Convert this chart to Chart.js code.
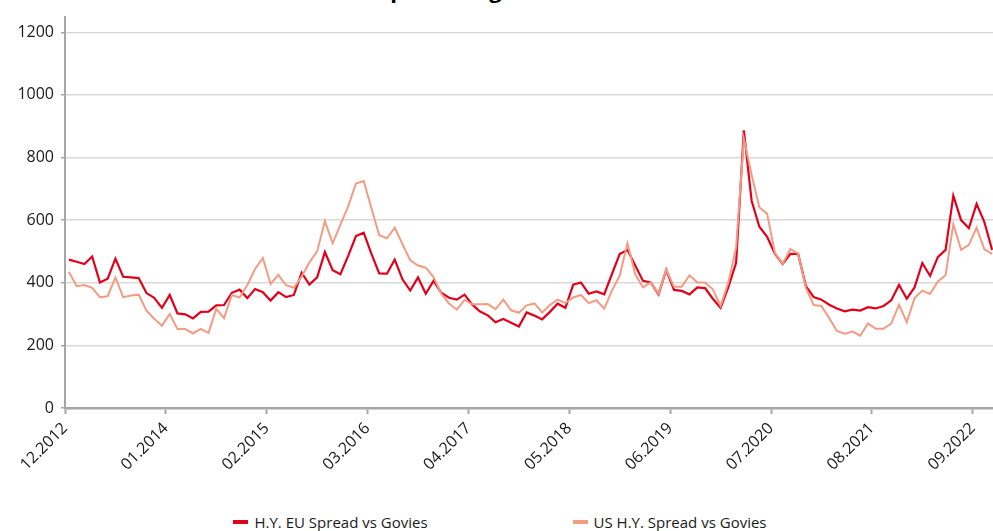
<!DOCTYPE html>
<html lang="en">
<head>
  <meta charset="UTF-8" />
  <title>H.Y. Spread vs government bonds</title>
  <script src="https://cdn.jsdelivr.net/npm/chart.js"></script>
  <style>
    body {
      margin: 0;
      padding: 0;
      background: #ffffff;
      overflow: hidden;
      font-family: "Open Sans", Arial, sans-serif;
      color: #1a1a1a;
    }

    .page {
      position: relative;
      width: 1000px;
      height: 531px;
    }

    .title {
      position: absolute;
      top: -24px;
      left: 13px;
      width: 1000px;
      text-align: center;
      font-weight: bold;
      font-size: 22px;
      line-height: 26px;
      color: #000000;
    }

    .chart-box {
      position: absolute;
      top: 0;
      left: 0;
      width: 1000px;
      height: 480px;
    }

    #legend {
      position: absolute;
      top: 512px;
      left: 0;
      width: 1000px;
      display: flex;
      justify-content: center;
      gap: 145px;
      font-size: 15px;
      line-height: 20px;
    }

    #legend span {
      display: flex;
      align-items: center;
    }

    #legend i {
      display: inline-block;
      width: 15px;
      height: 4px;
      margin-right: 6px;
    }
  </style>
</head>
<body>
  <div class="page">
    <div class="title">H.Y. Spread vs government bonds</div>
    <div class="chart-box"><canvas id="spreadChart"></canvas></div>
    <div id="legend"></div>
  </div>

  <script>
    // monthly observations, 12.2012 to 11.2022
    const startYear = 2012;
    const startMonth = 12;
    const months = [];
    for (let i = 0; i < 120; i++) {
      const m = (startMonth - 1 + i) % 12 + 1;
      const y = startYear + Math.floor((startMonth - 1 + i) / 12);
      months.push(String(m).padStart(2, '0') + '.' + y);
    }

    const tickLabels = ['12.2012', '01.2014', '02.2015', '03.2016', '04.2017',
                        '05.2018', '06.2019', '07.2020', '08.2021', '09.2022'];
    const yTicks = [0, 200, 400, 600, 800, 1000, 1200];

    const seriesNames = ['H.Y. EU Spread vs Govies', 'US H.Y. Spread vs Govies'];
    const seriesColors = ['#e2001a', '#f39c83'];

    const euSpread = [
      474, 467, 460, 484, 401, 413, 477, 419, 417, 415,
      367, 352, 320, 361, 302, 299, 286, 307, 308, 328,
      329, 368, 378, 351, 380, 370, 343, 370, 354, 361,
      432, 394, 417, 498, 440, 427, 486, 549, 560, 492,
      430, 429, 474, 411, 375, 417, 365, 406, 368, 352,
      346, 362, 330, 308, 296, 274, 284, 272, 260, 305,
      295, 283, 307, 333, 320, 394, 401, 365, 372, 363,
      428, 492, 505, 455, 406, 401, 363, 441, 377, 374,
      363, 385, 383, 349, 320, 386, 464, 887, 662, 579,
      547, 493, 460, 492, 492, 389, 354, 346, 330, 318,
      309, 314, 311, 322, 318, 326, 344, 393, 349, 385,
      463, 422, 482, 505, 678, 600, 574, 652, 594, 505
    ];

    const usSpread = [
      435, 389, 393, 384, 354, 357, 417, 354, 359, 362,
      311, 285, 263, 300, 252, 252, 238, 253, 240, 317,
      287, 361, 353, 393, 444, 479, 396, 425, 392, 384,
      420, 465, 500, 597, 526, 586, 644, 717, 725, 638,
      552, 542, 576, 523, 472, 455, 448, 418, 365, 334,
      314, 345, 331, 331, 332, 316, 346, 312, 304, 328,
      334, 305, 329, 346, 335, 353, 361, 335, 344, 317,
      375, 423, 526, 427, 385, 401, 365, 442, 387, 387,
      424, 401, 401, 379, 326, 401, 512, 860, 745, 641,
      620, 495, 461, 508, 493, 383, 329, 326, 287, 246,
      237, 244, 231, 270, 253, 253, 270, 330, 274, 351,
      375, 364, 404, 424, 587, 505, 521, 576, 507, 492
    ];

    const axisGrey = '#a6a6a6';
    const gridGrey = '#d9d9d9';
    const font = { family: '"Open Sans", Arial, sans-serif', size: 16 };

    function toPoints(values) {
      return values.map((v, i) => ({ x: i, y: v }));
    }

    const chart = new Chart(document.getElementById('spreadChart').getContext('2d'), {
      type: 'line',
      data: {
        datasets: [
          { label: seriesNames[0], data: toPoints(euSpread), borderColor: seriesColors[0], backgroundColor: seriesColors[0], borderWidth: 2.2, order: 1 },
          { label: seriesNames[1], data: toPoints(usSpread), borderColor: seriesColors[1], backgroundColor: seriesColors[1], borderWidth: 2, order: 0 }
        ]
      },
      options: {
        responsive: true,
        maintainAspectRatio: false,
        animation: false,
        layout: { padding: { top: 9, right: 4, left: 0, bottom: 0 } },
        elements: { point: { radius: 0 }, line: { tension: 0 } },
        plugins: { legend: { display: false }, tooltip: { enabled: false } },
        scales: {
          x: {
            type: 'linear',
            min: -0.5,
            max: months.length - 0.5,
            afterBuildTicks: scale => {
              // ticks sit on the boundary before each labelled month
              scale.ticks = tickLabels.map(l => ({ value: months.indexOf(l) - 0.5 }));
            },
            afterFit: scale => { scale.height = 72; },
            ticks: {
              autoSkip: false,
              minRotation: 45,
              maxRotation: 45,
              padding: 5,
              color: '#1a1a1a',
              font: font,
              callback: v => months[Math.round(v + 0.5)]
            },
            grid: { drawOnChartArea: false, drawTicks: true, tickLength: 6, tickColor: axisGrey, tickWidth: 2 },
            border: { display: true, color: axisGrey, width: 2.5 }
          },
          y: {
            min: 0,
            max: 1250,
            afterBuildTicks: scale => {
              scale.ticks = yTicks.map(v => ({ value: v }));
            },
            afterFit: scale => { scale.width = 65; },
            ticks: { padding: 7, color: '#1a1a1a', font: font, callback: v => String(v) },
            grid: { color: gridGrey, lineWidth: 1.5, tickLength: 4, tickColor: axisGrey, tickWidth: 1.5 },
            border: { display: true, color: axisGrey, width: 2 }
          }
        }
      }
    });

    const legend = document.getElementById('legend');
    seriesNames.forEach((name, i) => {
      const item = document.createElement('span');
      const mark = document.createElement('i');
      mark.style.background = seriesColors[i];
      item.appendChild(mark);
      item.appendChild(document.createTextNode(name));
      legend.appendChild(item);
    });
  </script>
</body>
</html>
